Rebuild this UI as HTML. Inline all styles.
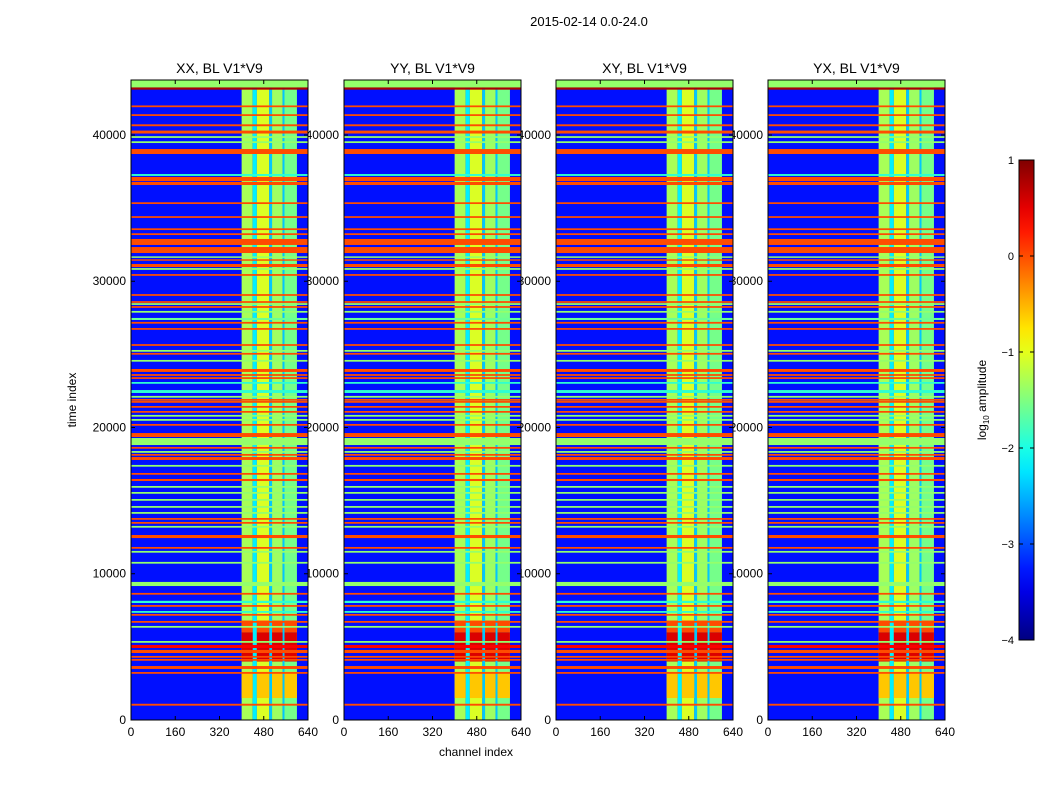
<!DOCTYPE html>
<html><head><meta charset="utf-8">
<style>
html,body{margin:0;padding:0;background:#fff;}
svg{display:block;font-family:"Liberation Sans","DejaVu Sans",sans-serif;}
</style></head>
<body>
<svg id="chart" width="1050" height="800" viewBox="0 0 1050 800" xmlns="http://www.w3.org/2000/svg">
<rect width="1050" height="800" fill="#fff"/>
<text x="589" y="26" font-size="13" text-anchor="middle">2015-02-14 0.0-24.0</text>
<text x="476" y="756" font-size="12" text-anchor="middle">channel index</text>
<text x="76" y="400" font-size="12" text-anchor="middle" transform="rotate(-90 76 400)">time index</text>
<g id="labels"></g>
<g id="panels"></g>
<g id="cbar"></g>
</svg>
<script>
// ---- data ----
const panelTitles = ["XX, BL V1*V9","YY, BL V1*V9","XY, BL V1*V9","YX, BL V1*V9"];
const yTicks = [0,10000,20000,30000,40000];
const xTicks = [0,160,320,480,640];
const cbTicks = [1,0,-1,-2,-3,-4];
const cbTickLabels = ["1","0","\u22121","\u22122","\u22123","\u22124"];
const backgroundVal = -3.3;
// channel column structure (channels)
const colStart = [400,440,455,500,510,548,555];
const colEnd   = [440,455,500,510,548,555,600];
const colVal   = [-1.3,-2.2,-1.05,-2.4,-1.35,-2.4,-1.55];
// hot regions within bright columns (time ranges)
const hotStart = [6000,4000,1500];
const hotEnd   = [6800,6000,3300];
const hotVal   = [0.0,0.55,-0.6];
// horizontal full-width bands (time index ranges)
const bandStart = [43250,43100,41900,41300,40600,40100,39800,39450,38700,37200,36850,36580,35280,34330,33500,33160,32480,31930,31600,31400,30970,30780,30370,29000,28520,28380,28180,27850,27350,27100,26680,25580,25180,24980,24500,23800,23530,23320,22990,22360,22040,21830,21690,21350,21010,20740,20460,20120,19350,18800,18550,18270,18070,17780,17320,16770,16340,15880,15470,14990,14510,14100,13690,13420,13150,12440,11710,11440,10690,9160,8570,8000,7740,7330,7130,6650,6310,5280,4920,4580,4260,4050,3490,3160,980];
const bandEnd   = [43760,43250,42020,41420,40730,40300,39920,39570,39040,37330,37130,36790,35400,34450,33620,33280,32890,32340,31700,31500,31180,30900,30490,29120,28640,28500,28300,27970,27490,27220,26800,25700,25300,25100,24620,24000,23650,23440,23110,22560,22160,21950,21810,21470,21130,20860,20580,20240,19620,19280,18670,18390,18190,17980,17440,16890,16480,16000,15590,15110,14630,14220,13810,13540,13270,12650,11830,11560,10810,9440,8690,8150,7860,7450,7250,6770,6430,5400,5130,4790,4380,4170,3690,3280,1110];
const bandVal   = [-1.4,0.8,0,0,0,0,-1.4,-1.4,0,-1.9,0,0,0,0,0,0,0,0,-1.4,0,0,-1.4,0,0,0,-1.4,0,-1.4,-1.6,0,0,0,-1.4,0,-1.4,0,0,0,-1.9,-1.9,-1.4,0,0,0,0,-1.4,-1.4,0,0,-1.4,0,-1.4,0,0,-1.4,0,0,-1.4,-1.4,-1.4,-1.4,-1.4,0,0,-1.4,0,0,-1.4,-1.4,-1.4,0,-1.9,0,-1.9,0,0,-1.4,-1.4,0.4,0,0,0,0,0,0];

// ---- layout ----
const panelX0 = [131,344,556,768];
const panelW = 177, plotTop = 80, plotBot = 720, tMax = 43760, chMax = 640;
const NS = "http://www.w3.org/2000/svg";
const vMin = -4, vMax = 1;

function jet(v){
  let x = Math.max(0, Math.min(1, (v - vMin)/(vMax - vMin)));
  const f = (a)=>Math.max(0, Math.min(1, 1.5 - Math.abs(4*x - a)));
  const r = f(3), g = f(2), b = f(1);
  return `rgb(${Math.round(r*255)},${Math.round(g*255)},${Math.round(b*255)})`;
}
function yScale(t){ return plotBot - (t/tMax)*(plotBot-plotTop); }
function mk(tag, attrs, parent){
  const e = document.createElementNS(NS, tag);
  for (const k in attrs) e.setAttribute(k, attrs[k]);
  parent.appendChild(e); return e;
}

const labels = document.getElementById('labels');
const panels = document.getElementById('panels');

panelX0.forEach((x0, p) => {
  const xScale = (c) => x0 + (c/chMax)*panelW;
  yTicks.forEach(t => {
    const tx = mk('text', {x: x0-5, y: yScale(t)+4, 'font-size': 12, 'text-anchor': 'end'}, labels);
    
    
    tx.textContent = t;
  });
  xTicks.forEach(c => {
    const tx = mk('text', {x: xScale(c), y: 736, 'font-size': 12, 'text-anchor': 'middle'}, labels);
    
    
    tx.textContent = c;
  });
  const tt = mk('text', {x: x0 + panelW/2, y: 73, 'font-size': 14, 'text-anchor': 'middle'}, labels);
  
  
  tt.textContent = panelTitles[p];

  const g = mk('g', {}, panels);
  
  
  const bg = mk('rect', {x: x0, y: plotTop, width: panelW, height: plotBot-plotTop, fill: jet(backgroundVal)}, g);
  
  
  colStart.forEach((c, i) => {
    const r = mk('rect', {x: xScale(c), y: plotTop, width: xScale(colEnd[i])-xScale(c), height: plotBot-plotTop, fill: jet(colVal[i])}, g);
    
    
  });
  hotStart.forEach((t, i) => {
    colStart.forEach((c, j) => {
      if (colVal[j] < -2) return;
      const r = mk('rect', {x: xScale(c), y: yScale(hotEnd[i]), width: xScale(colEnd[j])-xScale(c), height: yScale(t)-yScale(hotEnd[i]), fill: jet(hotVal[i])}, g);
      
      
    });
  });
  bandStart.forEach((t, i) => {
    const r = mk('rect', {x: x0, y: yScale(bandEnd[i]), width: panelW, height: Math.max(1, yScale(t)-yScale(bandEnd[i])), fill: jet(bandVal[i])}, g);
    
    
  });
  const fr = mk('rect', {x: x0, y: plotTop, width: panelW, height: plotBot-plotTop, fill: 'none', stroke: '#000', 'stroke-width': 1}, g);
  
  
  xTicks.forEach(c => {
    mk('line', {x1: xScale(c), x2: xScale(c), y1: plotBot, y2: plotBot-4, stroke: '#000'}, g);
    mk('line', {x1: xScale(c), x2: xScale(c), y1: plotTop, y2: plotTop+4, stroke: '#000'}, g);
  });
  yTicks.forEach(t => {
    mk('line', {x1: x0, x2: x0+4, y1: yScale(t), y2: yScale(t), stroke: '#000'}, g);
    mk('line', {x1: x0+panelW, x2: x0+panelW-4, y1: yScale(t), y2: yScale(t), stroke: '#000'}, g);
  });
});

// colorbar
const cb = document.getElementById('cbar');
const cbX = 1019, cbW = 15, cbTop = 160, cbBot = 640;
const cbScale = (v) => cbBot - (v - vMin)/(vMax - vMin)*(cbBot-cbTop);
const defs = mk('defs', {}, cb);
const grad = mk('linearGradient', {id: 'jetgrad', x1: 0, y1: 1, x2: 0, y2: 0}, defs);
for (let i = 0; i <= 20; i++) {
  const v = vMin + (vMax - vMin)*i/20;
  mk('stop', {offset: (i/20), 'stop-color': jet(v)}, grad);
}
const cbr = mk('rect', {x: cbX, y: cbTop, width: cbW, height: cbBot-cbTop, fill: 'url(#jetgrad)', stroke: '#000'}, cb);


cbTicks.forEach((v, i) => {
  mk('line', {x1: cbX, x2: cbX+4, y1: cbScale(v), y2: cbScale(v), stroke: '#000'}, cb);
  mk('line', {x1: cbX+cbW, x2: cbX+cbW-4, y1: cbScale(v), y2: cbScale(v), stroke: '#000'}, cb);
  const tx = mk('text', {x: cbX-5, y: cbScale(v)+4, 'font-size': 11, 'text-anchor': 'end'}, cb);
  
  
  tx.textContent = cbTickLabels[i];
});
const cbl = mk('text', {x: 986, y: 400, 'font-size': 12, 'text-anchor': 'middle', transform: 'rotate(-90 986 400)'}, cb);


cbl.innerHTML = 'log<tspan font-size="8" dy="3">10</tspan><tspan dy="-3"> amplitude</tspan>';
</script>
</body></html>
